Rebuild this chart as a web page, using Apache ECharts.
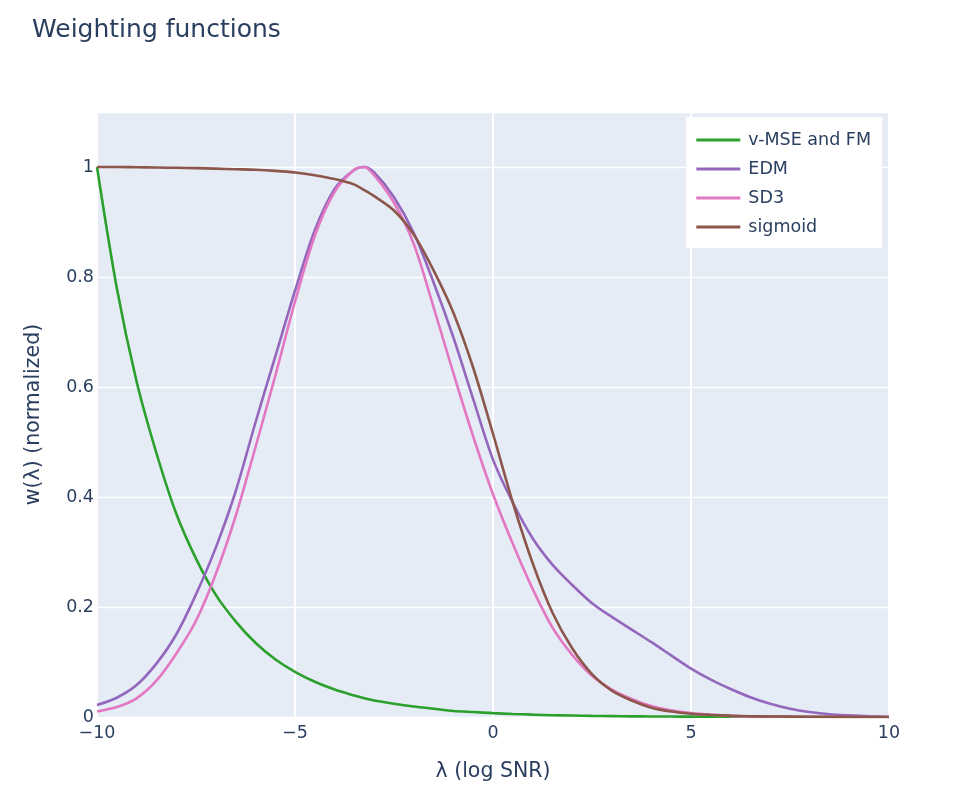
<!DOCTYPE html>
<html>
<head>
<meta charset="utf-8">
<script src="https://cdn.jsdelivr.net/npm/echarts@6/dist/echarts.min.js"></script>
<style>
    html, body { margin: 0; padding: 0; background: #fff; }
    #chart { width: 957px; height: 796px; }
</style>
</head>
<body>
<div id="chart"></div>
<script>
// log SNR grid (extra point at -3.25 for the peak)
var lambdas = [-10, -9.5, -9, -8.5, -8, -7.5, -7, -6.5, -6, -5.5, -5, -4.5, -4, -3.5, -3.25, -3, -2.5, -2, -1.5, -1, -0.5,
    0, 0.5, 1, 1.5, 2, 2.5, 3, 3.5, 4, 4.5, 5, 5.5, 6, 6.5, 7, 7.5, 8, 8.5, 9, 9.5, 10];

var vmseFm = [1, 0.78, 0.61, 0.48, 0.37, 0.288, 0.222, 0.174, 0.135, 0.105, 0.082, 0.064, 0.05, 0.039, 0.034, 0.030, 0.024, 0.019, 0.015, 0.011, 0.009,
    0.007, 0.0055, 0.0043, 0.0033, 0.0026, 0.002, 0.0016, 0.0012, 0.001, 0.0008, 0.0006, 0.0005, 0.0004, 0.0003, 0.0002, 0.0002, 0.0001, 0.0001, 0.0001, 0.0001, 0];

var edm = [0.022, 0.035, 0.058, 0.097, 0.15, 0.223, 0.308, 0.41, 0.535, 0.655, 0.775, 0.885, 0.96, 0.995, 1.0, 0.99, 0.945, 0.88, 0.79, 0.69, 0.578,
    0.468, 0.39, 0.325, 0.277, 0.24, 0.207, 0.182, 0.159, 0.136, 0.112, 0.088, 0.068, 0.051, 0.036, 0.024, 0.015, 0.009, 0.005, 0.003, 0.0015, 0];

var sd3 = [0.01, 0.018, 0.034, 0.066, 0.115, 0.175, 0.26, 0.365, 0.49, 0.62, 0.755, 0.875, 0.955, 0.995, 1.0, 0.985, 0.935, 0.86, 0.745, 0.625, 0.51,
    0.405, 0.315, 0.233, 0.163, 0.113, 0.075, 0.05, 0.033, 0.02, 0.012, 0.007, 0.004, 0.002, 0.001, 0.0006, 0.0004, 0.0002, 0.0001, 0.0001, 0, 0];

var sigmoidW = [1.0, 1.0, 0.9995, 0.999, 0.9985, 0.998, 0.997, 0.996, 0.995, 0.993, 0.99, 0.985, 0.978, 0.968, 0.958, 0.947, 0.921, 0.877, 0.812, 0.735, 0.635,
    0.515, 0.39, 0.28, 0.19, 0.125, 0.078, 0.048, 0.03, 0.017, 0.01, 0.006, 0.004, 0.0025, 0.0015, 0.001, 0.0007, 0.0004, 0.0003, 0.0002, 0.0001, 0];

var seriesNames = ["v-MSE and FM", "EDM", "SD3", "sigmoid"];
var seriesValues = [vmseFm, edm, sd3, sigmoidW];
var colors = ["#2ca02c", "#9467bd", "#e377c2", "#8c564b"];

var fontFamily = '"DejaVu Sans", Verdana, sans-serif';
var fontColor = "#2a3f5f";

function makeData(values) {
    var rows = [];
    for (let i = 0; i < lambdas.length; i++) {
        rows.push([lambdas[i], values[i]]);
    }
    return rows;
}

var series = [];
for (let i = 0; i < seriesNames.length; i++) {
    series.push({
        name: seriesNames[i],
        type: "line",
        data: makeData(seriesValues[i]),
        showSymbol: false,
        smooth: 0.3,
        lineStyle: { width: 2.6, color: colors[i] },
        itemStyle: { color: colors[i] },
        emphasis: { disabled: true }
    });
}

var chart = echarts.init(document.getElementById("chart"), null, { renderer: "canvas" });
chart.setOption({
    backgroundColor: "#ffffff",
    animation: false,
    textStyle: { fontFamily: fontFamily, color: fontColor },
    title: {
        text: "Weighting functions",
        left: 27,
        top: 13,
        textStyle: { fontFamily: fontFamily, fontSize: 25, fontWeight: "normal", color: fontColor }
    },
    grid: { left: 97, right: 68, top: 112, bottom: 79, backgroundColor: "#e5ecf6", show: true, borderWidth: 0 },
    legend: {
        orient: "vertical",
        right: 75,
        top: 117,
        backgroundColor: "#ffffff",
        padding: [14, 11, 12, 10],
        itemGap: 11,
        itemWidth: 44,
        itemHeight: 3,
        icon: "rect",
        textStyle: { fontFamily: fontFamily, fontSize: 17.5, color: fontColor, padding: [0, 0, 0, 3] },
        data: seriesNames
    },
    xAxis: {
        type: "value",
        min: -10,
        max: 10,
        interval: 5,
        name: "λ (log SNR)",
        nameLocation: "middle",
        nameGap: 44,
        nameTextStyle: { fontFamily: fontFamily, fontSize: 20.5, color: fontColor },
        axisLine: { show: false },
        axisTick: { show: false },
        axisLabel: {
            fontFamily: fontFamily, fontSize: 17.5, color: fontColor, margin: 7,
            formatter: function (v) { return String(v).replace("-", "\u2212"); }
        },
        splitLine: { show: true, lineStyle: { color: "#ffffff", width: 2 } }
    },
    yAxis: {
        type: "value",
        min: 0,
        max: 1.1,
        interval: 0.2,
        name: "w(λ) (normalized)",
        nameLocation: "middle",
        nameGap: 53,
        nameTextStyle: { fontFamily: fontFamily, fontSize: 20.5, color: fontColor },
        axisLine: { show: false },
        axisTick: { show: false },
        axisLabel: {
            fontFamily: fontFamily, fontSize: 17.5, color: fontColor, margin: 3,
            formatter: function (v) { return v > 1.05 ? "" : String(Math.round(v * 10) / 10); }
        },
        splitLine: { show: true, lineStyle: { color: "#ffffff", width: 1.3 } }
    },
    series: series
});
</script>
</body>
</html>
